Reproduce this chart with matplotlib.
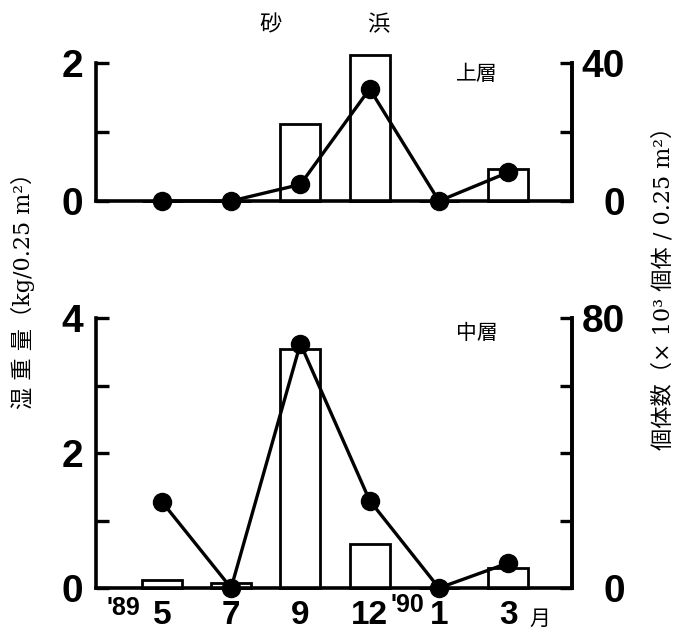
import matplotlib
import matplotlib.pyplot as plt
import numpy as np

# months sampled ('89 May .. '90 Mar)
months = ["5", "7", "9", "12", "1", "3"]

# upper layer: wet weight (kg/0.25m2) and count (x10^3 / 0.25m2)
upper_weight = [0.0, 0.0, 1.11, 2.12, 0.0, 0.46]
upper_count = [0.0, 0.0, 4.8, 32.5, 0.0, 8.3]

# middle layer
middle_weight = [0.12, 0.08, 3.54, 0.65, 0.0, 0.30]
middle_count = [25.6, 0.0, 72.4, 25.9, 0.0, 7.4]

num_font = ['Liberation Sans', 'DejaVu Sans']
cjk_font = ['Noto Sans CJK JP', 'DejaVu Sans']
label_font = ['DejaVu Serif', 'Noto Sans CJK JP', 'DejaVu Sans']

plt.rcParams['font.family'] = num_font
plt.rcParams['axes.linewidth'] = 2.6

fig = plt.figure(figsize=(6.79, 6.4), dpi=100)

x = np.arange(len(months))
L = 96 / 679
W = (572 - 96) / 679


def draw_panel(rect, weight, count, wmax, cmax, wticks, wlabels, cticks, clabels):
    ax = fig.add_axes(rect)
    ax.bar(x, weight, width=0.58, facecolor='white', edgecolor='black',
           linewidth=2, clip_on=False, zorder=2)
    ax.set_xlim(-0.95, 5.92)
    ax.set_ylim(0, wmax)
    ax.spines['top'].set_visible(False)
    ax.set_yticks(wticks, labels=wlabels)
    ax.tick_params(axis='y', direction='in', length=9, width=2.4, pad=9,
                   labelsize=28)
    for t in ax.get_yticklabels():
        t.set_fontweight('bold')

    ax2 = ax.twinx()
    ax2.plot(x, count, color='black', lw=2.4, marker='o', markersize=13,
             clip_on=False, zorder=3)
    ax2.set_ylim(0, cmax)
    for s in ['top', 'left', 'bottom']:
        ax2.spines[s].set_visible(False)
    ax2.set_yticks(cticks, labels=clabels)
    ax2.tick_params(axis='y', direction='in', length=9, width=2.4, pad=38,
                    labelsize=28)
    for t in ax2.get_yticklabels():
        t.set_fontweight('bold')
        t.set_horizontalalignment('right')
    return ax


top = draw_panel([L, 1 - 201 / 640, W, 138 / 640], upper_weight, upper_count,
                 2, 40, [0, 1, 2], ['0', '', '2'], [0, 20, 40], ['0', '', '40'])
top.set_xticks(x, labels=[])
top.tick_params(axis='x', length=0)
top.text(0.80, 0.92, '上層', transform=top.transAxes, fontsize=15,
         family=cjk_font, ha='center', va='center')

bot = draw_panel([L, 1 - 588 / 640, W, 270 / 640], middle_weight, middle_count,
                 4, 80, [0, 1, 2, 3, 4], ['0', '', '2', '', '4'],
                 [0, 20, 40, 60, 80], ['0', '', '', '', '80'])
bot.text(0.80, 0.945, '中層', transform=bot.transAxes, fontsize=15,
         family=cjk_font, ha='center', va='center')
bot.set_xticks(x, labels=months)
bot.tick_params(axis='x', length=0, pad=9, labelsize=24)
for t in bot.get_xticklabels():
    t.set_fontweight('bold')

tr = bot.get_xaxis_transform()
bot.text(-0.56, -0.03, "'89", transform=tr, fontsize=18, fontweight='bold',
         ha='center', va='top')
bot.text(3.54, -0.02, "'90", transform=tr, fontsize=18, fontweight='bold',
         ha='center', va='top')
bot.text(5.45, -0.075, "月", transform=tr, fontsize=15, family=cjk_font,
         ha='center', va='top')

fig.text(271 / 679, 1 - 25 / 640, "砂", fontsize=16, family=cjk_font,
         ha='center', va='center')
fig.text(378 / 679, 1 - 25 / 640, "浜", fontsize=16, family=cjk_font,
         ha='center', va='center')

fig.text(23 / 679, 1 - 285 / 640, "湿 重 量（kg/0.25 m²）", rotation=90,
         fontsize=16, family=label_font, ha='center', va='center')
fig.text(663 / 679, 1 - 283 / 640, "個体数（× 10³ 個体 / 0.25 m²）", rotation=90,
         fontsize=16, family=label_font, ha='center', va='center')

plt.savefig("out.png", dpi=100)
plt.close()
